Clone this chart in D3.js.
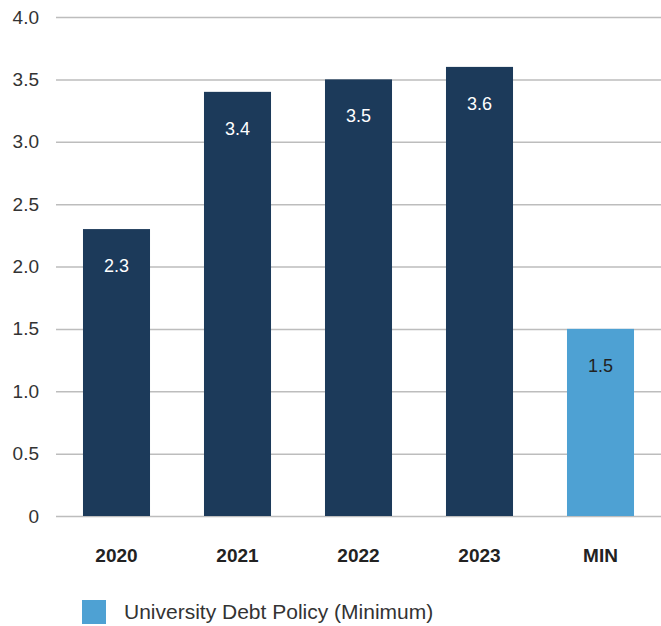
<!DOCTYPE html>
<html>
<head>
<meta charset="utf-8">
<script src="https://cdn.jsdelivr.net/npm/d3@7"></script>
<style>
  body { margin: 0; background: #fff; }
  svg text { font-family: "Liberation Sans", Arial, sans-serif; }
</style>
</head>
<body>
<script>
//chart data
var categories = ["2020", "2021", "2022", "2023", "MIN"];
var values = [2.3, 3.4, 3.5, 3.6, 1.5];
var yTicks = [0, 0.5, 1, 1.5, 2, 2.5, 3, 3.5, 4];
var legendLabel = "University Debt Policy (Minimum)";

//frame
var width = 661,
    height = 626;

var svg = d3.select("body")
    .append("svg")
    .attr("width", width)
    .attr("height", height);

var x = d3.scaleBand()
    .domain(categories)
    .range([56, 661])
    .paddingInner(0.446)
    .paddingOuter(0.223);

var y = d3.scaleLinear()
    .domain([0, 4])
    .range([516, 17]);

var dark = "#1c3a5a",
    light = "#4ea1d3";

//gridlines + y labels
var yAxis = d3.axisLeft(y)
    .tickValues(yTicks)
    .tickSize(-(661 - 56))
    .tickFormat(function(d){ return d === 0 ? "0" : d3.format(".1f")(d); });

var gy = svg.append("g")
    .attr("transform", "translate(56,0)")
    .call(yAxis);
gy.select(".domain").remove();
gy.selectAll(".tick line")
    .attr("stroke", "#bdbdbd")
    .attr("stroke-width", 1.5);
gy.selectAll(".tick text")
    .attr("x", -17)
    .attr("fill", "#333")
    .style("font-size", "19px");

//bars
svg.selectAll(".bar")
    .data(values)
    .enter()
    .append("rect")
    .attr("class", "bar")
    .attr("x", function(d, i){ return x(categories[i]); })
    .attr("y", function(d){ return y(d); })
    .attr("width", x.bandwidth())
    .attr("height", function(d){ return y(0) - y(d); })
    .attr("fill", function(d, i){ return categories[i] === "MIN" ? light : dark; });

//value labels
svg.selectAll(".val")
    .data(values)
    .enter()
    .append("text")
    .attr("class", "val")
    .attr("x", function(d, i){ return x(categories[i]) + x.bandwidth() / 2; })
    .attr("y", function(d){ return y(d) + 43; })
    .attr("text-anchor", "middle")
    .attr("fill", function(d, i){ return categories[i] === "MIN" ? "#222" : "#fff"; })
    .style("font-size", "18px")
    .text(function(d){ return d3.format(".1f")(d); });

//x labels
var xAxis = d3.axisBottom(x).tickSize(0);
var gx = svg.append("g")
    .attr("transform", "translate(0,516)")
    .call(xAxis);
gx.select(".domain").remove();
gx.selectAll(".tick text")
    .attr("y", 46)
    .attr("dy", 0)
    .attr("fill", "#222")
    .style("font-size", "19px")
    .style("font-weight", "bold");

//legend
svg.append("rect")
    .attr("x", 82)
    .attr("y", 600)
    .attr("width", 24)
    .attr("height", 24)
    .attr("fill", light);
svg.append("text")
    .attr("x", 124)
    .attr("y", 619)
    .attr("fill", "#333")
    .style("font-size", "21px")
    .text(legendLabel);
</script>
</body>
</html>
